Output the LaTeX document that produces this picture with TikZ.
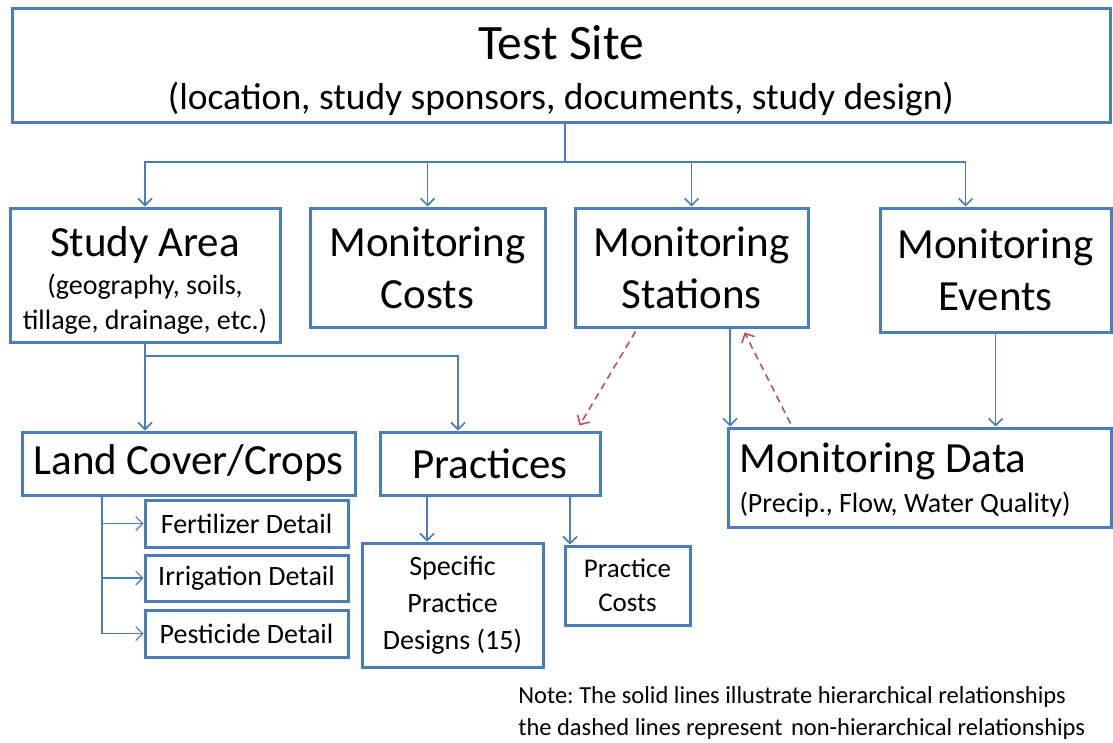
\documentclass[tikz,border=0pt]{standalone}
\usepackage{fontspec}
\setmainfont{Carlito}
\usepackage{tikz}
\usetikzlibrary{arrows.meta,positioning}

\definecolor{boxblue}{RGB}{74,126,187}
\definecolor{linkred}{RGB}{192,80,77}

\newcommand{\fsTitle}{\fontsize{49.5}{52}\selectfont}
\newcommand{\fsSub}{\fontsize{37.5}{52}\selectfont}
\newcommand{\fsBox}{\fontsize{43}{52}\selectfont}
\newcommand{\fsSmall}{\fontsize{28}{35}\selectfont}
\newcommand{\fsList}{\fontsize{28}{37}\selectfont}
\newcommand{\fsCost}{\fontsize{27}{34}\selectfont}
\newcommand{\fsNote}{\fontsize{24.5}{32}\selectfont}
\newcommand{\lift}[1]{\rule{0pt}{#1}}

\begin{document}
\frenchspacing
\begin{tikzpicture}[x=1pt,y=-1pt,>={Straight Barb[length=7pt,width=14pt]},semithick]
\tikzstyle{box}=[draw=boxblue,line width=3pt,fill=white,inner sep=0pt,align=center]
\tikzstyle{link}=[->,draw=boxblue,line width=1.6pt]
\tikzstyle{soft}=[->,draw=linkred,line width=1.6pt,dash pattern=on 7pt off 5pt]

\useasboundingbox (0,0) rectangle (1113,742);

\node[box,font=\fsSub,minimum width=1098pt,minimum height=114pt] (site) at (561,65)
  {\lift{45pt}{\fsTitle Test Site}\\[-2pt] (location, study sponsors, documents, study design)};

\node[box,font=\fsSmall,minimum width=270pt,minimum height=134pt] (area) at (145,275)
  {\lift{40pt}{\fsBox Study Area}\\[3pt] (geography, soils,\\ tillage, drainage, etc.)};
\node[box,font=\fsBox,minimum width=235pt,minimum height=119pt] (costs) at (427.5,267.5)
  {Monitoring\\ Costs};
\node[box,font=\fsBox,minimum width=233pt,minimum height=119pt] (stations) at (691.5,267.5)
  {Monitoring\\ Stations};
\node[box,font=\fsBox,minimum width=231pt,minimum height=124pt] (events) at (995.5,270)
  {Monitoring\\ Events};

\node[box,font=\fsBox,minimum width=333pt,minimum height=63pt] (crops) at (188.5,463.5)
  {Land Cover/Crops};
\node[box,font=\fsBox,minimum width=220pt,minimum height=63pt] (practices) at (490,463.5)
  {Practices};
\node[box,font=\fsSmall,minimum width=383pt,minimum height=99pt,text width=360pt,align=flush left] (data) at (919.5,477.5)
  {\lift{35pt}{\fsBox Monitoring Data}\\[5pt] (Precip., Flow, Water Quality)};

\node[box,font=\fsSmall,minimum width=203pt,minimum height=47pt] (fert) at (246.5,523.5)
  {Fertilizer Detail};
\node[box,font=\fsSmall,minimum width=203pt,minimum height=46pt] (irr) at (246.5,578)
  {Irrigation Detail};
\node[box,font=\fsSmall,minimum width=203pt,minimum height=47pt] (pest) at (246.5,633.5)
  {Pesticide Detail};

\node[box,font=\fsList,minimum width=181pt,minimum height=124pt] (design) at (452.5,605)
  {Specific\\ Practice\\ Designs (15)};
\node[box,font=\fsCost,minimum width=125pt,minimum height=79pt] (pcosts) at (627.5,585.5)
  {Practice\\ Costs};

\node[anchor=north west,align=left,inner sep=0pt,font=\fsNote] (note) at (518,686)
  {Note: The solid lines illustrate hierarchical relationships\\
   the dashed lines represent\hspace{3pt} non-hierarchical relationships};

% hierarchy from the test site
\coordinate (hub) at ([xshift=4pt]site.south |- 0,162);
\draw[line width=1.6pt,draw=boxblue] ([xshift=4pt]site.south) -- (hub);
\draw[link] (hub) -| (area.north);
\draw[link] (hub) -| (costs.north);
\draw[link] (hub) -| (stations.north);
\draw[link] (hub) -| ([xshift=-30pt]events.north);

% study area branch
\coordinate (split) at (area.south |- 0,356);
\draw[link] (area.south) -- (area.south |- crops.north);
\draw[link] (split) -| ([xshift=-32pt]practices.north);

% land cover details
\coordinate (rail) at (102,495);
\draw[link,line width=1.1pt] (rail) |- (fert.west);
\draw[link,line width=1.1pt] (rail) |- (irr.west);
\draw[link,line width=1.1pt] (rail) |- (pest.west);

% practices
\draw[link] ([xshift=-63pt]practices.south) -- ([xshift=-63pt]practices.south |- design.north);
\draw[link] ([xshift=80pt]practices.south) -- ([xshift=80pt]practices.south |- pcosts.north);

% monitoring
\draw[link] ([xshift=38.5pt]stations.south) -- ([xshift=38.5pt]stations.south |- data.north);
\draw[link] (events.south) -- (events.south |- data.north);

% non-hierarchical links
\draw[soft] ([xshift=-56pt,yshift=-3pt]stations.south) -- ([xshift=-22pt,yshift=5pt]practices.north east);
\draw[soft] ([xshift=64pt,yshift=3pt]data.north west) -- ([xshift=53pt,yshift=-4pt]stations.south);
\end{tikzpicture}
\end{document}
